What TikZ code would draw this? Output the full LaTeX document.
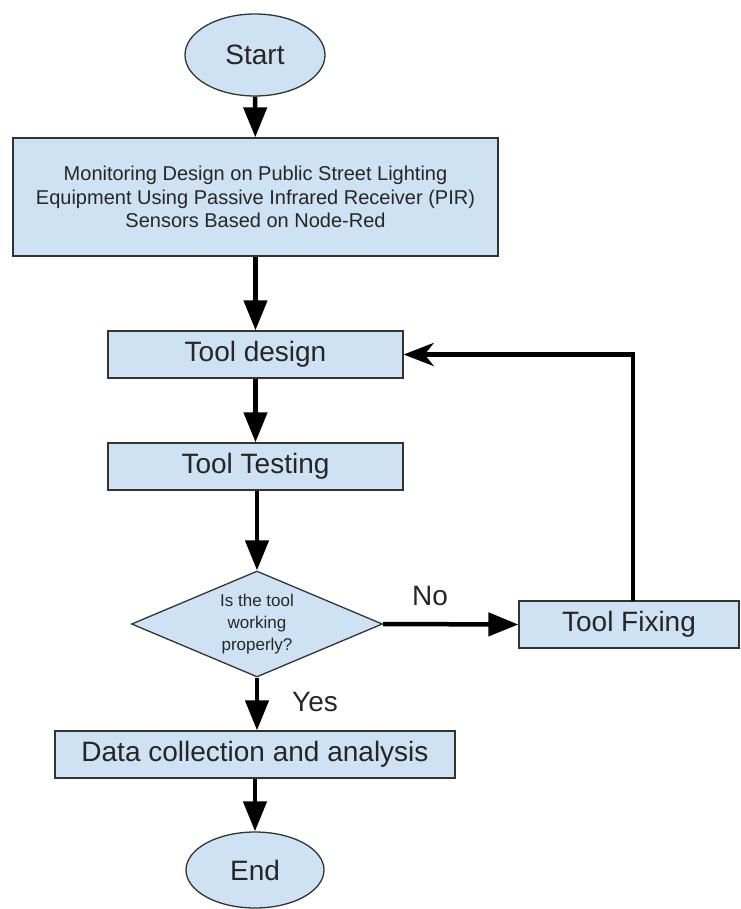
\documentclass[tikz,border=0pt]{standalone}
\usepackage{fontspec}
\setmainfont{Liberation Sans}
\usetikzlibrary{shapes.geometric,arrows.meta}
\definecolor{boxfill}{HTML}{CFE2F3}
\definecolor{boxline}{HTML}{333333}
\tikzset{
  base/.style={draw=boxline, line width=1.3pt, fill=boxfill, inner sep=0pt, text=black!85},
  oval/.style={base, ellipse, font=\fontsize{28}{34}\selectfont},
  procbox/.style={base, rectangle, font=\fontsize{28}{34}\selectfont},
  decide/.style={base, diamond},
  dectextstyle/.style={font=\fontsize{17}{22}\selectfont, align=center, text=black!85, inner sep=0pt},
  flow/.style={line width=4.5pt, -{Triangle[length=30pt,width=23pt]}},
  backflow/.style={line width=4.5pt, -{Stealth[length=30pt,width=23pt,inset=9pt]}},
  lab/.style={font=\fontsize{28}{34}\selectfont, text=black!85}
}
\begin{document}
\begin{tikzpicture}[x=1pt,y=-1pt]
\useasboundingbox (0,0) rectangle (740,909);
\node[oval, minimum width=140pt, minimum height=82pt] (start) at (255,55) {Start};
\node[procbox, minimum width=485pt, minimum height=118pt, align=center,
      font=\fontsize{20}{23.5}\selectfont] (title) at (255.5,197)
  {Monitoring Design on Public Street Lighting\\Equipment Using Passive Infrared Receiver (PIR)\\Sensors Based on Node-Red};
\node[procbox, minimum width=295pt, minimum height=47pt] (design) at (255.5,354.5) {Tool design};
\node[procbox, minimum width=295pt, minimum height=47pt] (testing) at (255.5,466.5) {Tool Testing};
\node[decide, minimum width=251pt, minimum height=106pt] (decision) at (257,624) {};
\node[dectextstyle] (dectext) at (decision.center) {Is the tool\\working\\properly?};
\node[procbox, minimum width=220pt, minimum height=47pt] (fixing) at (629,624.5) {Tool Fixing};
\node[procbox, minimum width=400pt, minimum height=47pt] (data) at (255,754.5) {Data collection and analysis};
\node[oval, minimum width=138pt, minimum height=76pt] (end) at (255,870) {End};
\coordinate (fixtop) at (633,601);
\draw[flow] (start) -- (title);
\draw[flow] (title) -- (design);
\draw[flow] (design) -- (testing);
\draw[flow] (testing.south -| decision.north) -- (decision.north);
\draw[flow] (decision.east) -- (fixing.west);
\node[lab] (nolab) at (430,596) {No};
\draw[backflow] (fixtop) |- (design.east);
\draw[flow] (decision.south) -- (decision.south |- data.north);
\node[lab] (yeslab) at (315,702) {Yes};
\draw[flow] (data) -- (end);
\end{tikzpicture}
\end{document}
